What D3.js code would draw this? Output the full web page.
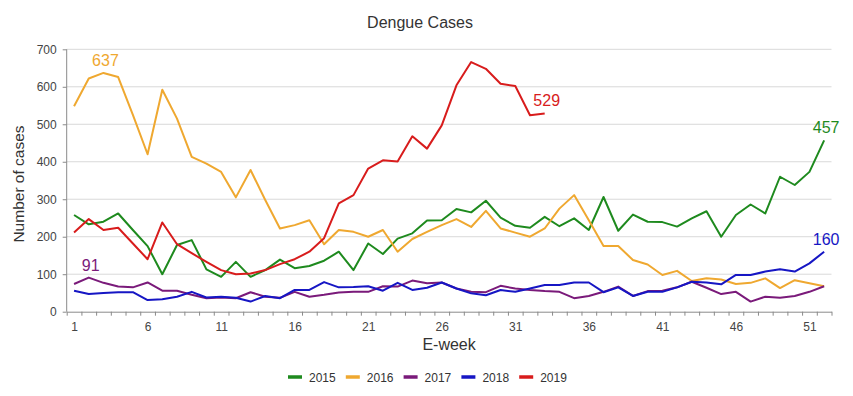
<html>
<head>
<title>Dengue Cases</title>
<script src="https://cdn.jsdelivr.net/npm/d3@7"></script>
<style>
  body { margin: 0; background: #fff; }
  svg text { font-family: Arial, "Liberation Sans", sans-serif; }
  .grid line { stroke: #d9d9d9; }
  .axis path, .axis line { stroke: #8a8a8a; }
  .axis text { fill: #444; font-size: 12px; }
</style>
</head>
<body>
<svg id="chart" width="853" height="396"></svg>
<script>
// weekly dengue cases
var weeks = d3.range(1, 53);
var s2015 = [258,233,240,262,218,175,100,178,191,113, 93,133,93,111,139,116,122,136,160,111,
             182,154,195,209,243,244,274,265,296,251, 229,224,253,228,249,218,306,216,259,240,
             239,227,249,268,200,258,286,262,360,338, 373,457];
var s2016 = [548,622,637,626,525,420,592,515,413,395, 373,305,378,298,222,231,244,180,218,213,
             200,218,160,194,213,231,247,226,269,222, 211,200,222,275,311,244,175,175,138,126,
             98,109,82,89,86,74,77,89,63,84, 76,68];
var s2017 = [74,91,77,67,65,78,56,56,45,36, 38,36,52,40,37,53,40,45,51,53,
             53,68,67,83,76,78,62,53,52,69, 62,58,55,53,36,42,53,67,42,55,
             56,65,80,64,47,53,27,40,37,42, 53,68];
var s2018 = [56,47,50,52,52,31,33,40,53,38, 40,37,27,42,36,58,58,79,65,66,
             68,56,77,58,64,78,62,49,44,58, 53,62,71,71,78,78,52,65,42,53,
             53,65,80,78,73,98,98,107,113,107, 129,160];
var s2019 = [211,247,218,224,182,140,238,180,156,133, 111,100,102,111,127,140,160,196,289,311,
             382,404,401,468,435,497,604,666,648,608, 602,524,529];

var seriesNames = ["2015", "2016", "2017", "2018", "2019"];
var seriesValues = [s2015, s2016, s2017, s2018, s2019];
var seriesColors = ["#1e8a1e", "#efa830", "#7a1a7a", "#1616c4", "#d81c1c"];
// which week of each series gets a value label
var labelWeeks = [52, 3, 2, 52, 33];

var yTicks = [0, 100, 200, 300, 400, 500, 600, 700];
var xTickLabels = [1, 6, 11, 16, 21, 26, 31, 36, 41, 46, 51];

var svg = d3.select("#chart");
var plotLeft = 66.7, plotRight = 831.5, plotTop = 49.3, plotBottom = 311.7;

var x = d3.scaleLinear().domain([0.5, 52.5]).range([plotLeft, plotRight]);
var y = d3.scaleLinear().domain([0, 700]).range([plotBottom, plotTop]);

// gridlines
svg.append("g").attr("class", "grid")
  .selectAll("line").data(yTicks.slice(1)).enter().append("line")
  .attr("x1", plotLeft).attr("x2", plotRight)
  .attr("y1", function(d) { return y(d); }).attr("y2", function(d) { return y(d); });

// y axis
var yAxis = svg.append("g").attr("class", "axis")
  .attr("transform", "translate(" + plotLeft + ",0)")
  .call(d3.axisLeft(y).tickValues(yTicks).tickSize(4).tickPadding(6));
yAxis.select(".domain").attr("d", "M0," + plotTop + "V" + plotBottom);

// x axis: ticks on week boundaries, labels on weeks
svg.append("g").attr("class", "axis")
  .attr("transform", "translate(0," + plotBottom + ")")
  .call(d3.axisBottom(x).tickValues(d3.range(0.5, 53, 1)).tickFormat("").tickSize(4).tickSizeOuter(0));
svg.append("g").attr("class", "axis")
  .attr("transform", "translate(0," + plotBottom + ")")
  .call(d3.axisBottom(x).tickValues(xTickLabels).tickSize(0).tickPadding(11))
  .select(".domain").remove();

// lines
var line = d3.line()
  .x(function(d, i) { return x(weeks[i]); })
  .y(function(d) { return y(d); });

seriesValues.forEach(function(vals, k) {
  svg.append("path")
    .datum(vals)
    .attr("fill", "none")
    .attr("stroke", seriesColors[k])
    .attr("stroke-width", 2)
    .attr("stroke-linejoin", "round")
    .attr("d", line);
});

// value labels
seriesValues.forEach(function(vals, k) {
  var w = labelWeeks[k];
  svg.append("text")
    .attr("x", x(w) + 2)
    .attr("y", y(vals[w - 1]) - 7)
    .attr("text-anchor", "middle")
    .attr("font-size", "16px")
    .attr("fill", seriesColors[k])
    .text(vals[w - 1]);
});

// titles
svg.append("text")
  .attr("x", 420).attr("y", 28)
  .attr("text-anchor", "middle")
  .attr("font-size", "16px").attr("fill", "#333")
  .text("Dengue Cases");

svg.append("text")
  .attr("transform", "translate(24,184) rotate(-90)")
  .attr("text-anchor", "middle")
  .attr("font-size", "15.5px").attr("fill", "#333")
  .text("Number of cases");

svg.append("text")
  .attr("x", (plotLeft + plotRight) / 2).attr("y", 350)
  .attr("text-anchor", "middle")
  .attr("font-size", "16px").attr("fill", "#333")
  .text("E-week");

// legend
var legend = svg.append("g").attr("transform", "translate(288,377)");
var item = legend.selectAll("g").data(seriesNames).enter().append("g")
  .attr("transform", function(d, i) { return "translate(" + (i * 57.8) + ",0)"; });
item.append("line")
  .attr("x1", 0).attr("x2", 14)
  .attr("stroke", function(d, i) { return seriesColors[i]; })
  .attr("stroke-width", 3.5);
item.append("text")
  .attr("x", 21).attr("y", 4.5)
  .attr("font-size", "12px").attr("fill", "#333")
  .text(function(d) { return d; });
</script>
</body>
</html>
